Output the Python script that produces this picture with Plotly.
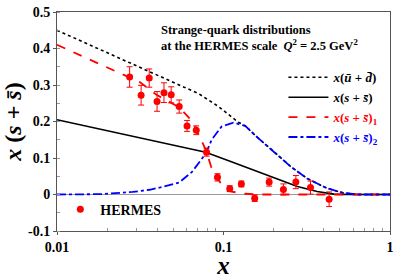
import plotly.graph_objects as go

# HERMES data
herm_x = [0.0273, 0.0320, 0.0358, 0.0399, 0.0439, 0.0485, 0.0542, 0.0604, 0.0686, 0.0791,
          0.092, 0.109, 0.128, 0.154, 0.188, 0.229, 0.272, 0.333, 0.431]
herm_y = [0.322, 0.272, 0.319, 0.255, 0.279, 0.273, 0.241, 0.188, 0.176, 0.116,
          0.047, 0.016, 0.029, -0.010, 0.034, 0.014, 0.034, 0.019, -0.013]
herm_err = [0.028, 0.027, 0.025, 0.027, 0.027, 0.022, 0.018, 0.015, 0.012, 0.011,
            0.010, 0.008, 0.008, 0.009, 0.011, 0.015, 0.018, 0.018, 0.020]

# x(ubar + dbar)
ud_x = [0.01, 0.0182, 0.036, 0.0711, 0.0933, 0.1227, 0.135, 0.161, 0.198, 0.2525, 0.318, 0.418, 0.527, 0.647, 1.0]
ud_y = [0.450, 0.397, 0.337, 0.276, 0.241, 0.198, 0.188, 0.155, 0.120, 0.077, 0.044, 0.017, 0.004, 0.0, 0.0]

# x(s + sbar)
s_x = [0.01, 0.0274, 0.0782, 0.1115, 0.161, 0.2116, 0.278, 0.365, 0.46, 0.55, 1.0]
s_y = [0.205, 0.161, 0.116, 0.090, 0.063, 0.044, 0.022, 0.008, 0.001, 0.0, 0.0]

# x(s + sbar)_1
s1_x = [0.01, 0.0139, 0.0209, 0.0314, 0.0396, 0.0542, 0.0621, 0.0683, 0.0782, 0.0849, 0.0973, 0.1115, 0.135, 0.161, 1.0]
s1_y = [0.410, 0.380, 0.343, 0.308, 0.273, 0.239, 0.210, 0.180, 0.123, 0.072, 0.027, 0.008, 0.002, 0.0, 0.0]

# x(s + sbar)_2
s2_x = [0.01, 0.0182, 0.0285, 0.036, 0.0442, 0.0542, 0.0647, 0.0711, 0.0782, 0.0849, 0.0973,
        0.1146, 0.135, 0.161, 0.198, 0.2525, 0.318, 0.418, 0.527, 0.647, 1.0]
s2_y = [0.0, 0.001, 0.007, 0.013, 0.022, 0.033, 0.062, 0.088, 0.112, 0.150, 0.186,
        0.197, 0.188, 0.155, 0.120, 0.077, 0.044, 0.017, 0.004, 0.0, 0.0]

x_ticks = [0.01, 0.1, 1]
x_ticklabels = ["0.01", "0.1", "1"]
x_minor = [0.02, 0.03, 0.04, 0.05, 0.06, 0.07, 0.08, 0.09, 0.2, 0.3, 0.4, 0.5, 0.6, 0.7, 0.8, 0.9]
y_ticks = [-0.1, 0, 0.1, 0.2, 0.3, 0.4, 0.5]
y_ticklabels = ["-0.1", "0", "0.1", "0.2", "0.3", "0.4", "0.5"]

SB = "s\u0304"
serif = "Liberation Serif"

fig = go.Figure()
fig.add_trace(go.Scatter(x=ud_x, y=ud_y, mode="lines",
                         line=dict(color="black", dash="dot", width=1.6),
                         name="<b><i>x</i>(<i>u\u0304</i> + <i>d\u0304</i>)</b>"))
fig.add_trace(go.Scatter(x=s_x, y=s_y, mode="lines",
                         line=dict(color="black", width=1.6),
                         name=f"<b><i>x</i>(<i>s</i> + <i>{SB}</i>)</b>"))
fig.add_trace(go.Scatter(x=s1_x, y=s1_y, mode="lines",
                         line=dict(color="#ff0000", dash="dash", width=1.8),
                         name=f"<span style='color:#ff0000'><b><i>x</i>(<i>s</i> + <i>{SB}</i>)<sub>1</sub></b></span>"))
fig.add_trace(go.Scatter(x=s2_x, y=s2_y, mode="lines",
                         line=dict(color="#0000ff", dash="dashdot", width=1.8),
                         name=f"<span style='color:#0000ff'><b><i>x</i>(<i>s</i> + <i>{SB}</i>)<sub>2</sub></b></span>"))
fig.add_trace(go.Scatter(x=herm_x, y=herm_y, mode="markers",
                         marker=dict(color="#ff0000", size=7),
                         error_y=dict(type="data", array=herm_err, color="#ff0000", thickness=1, width=3),
                         name="<b>HERMES</b>", legend="legend2"))

fig.update_layout(
    width=399, height=279,
    margin=dict(l=56, r=5, t=8, b=48),
    paper_bgcolor="white", plot_bgcolor="white",
    font=dict(family=serif, color="black", size=13),
    showlegend=True,
    legend=dict(x=0.68, y=0.77, xanchor="left", yanchor="top",
                bgcolor="rgba(0,0,0,0)", font=dict(size=13, family=serif),
                itemwidth=40, tracegroupgap=0),
    legend2=dict(x=0.01, y=0.17, xanchor="left", yanchor="top",
                 bgcolor="rgba(0,0,0,0)", font=dict(size=14, family=serif)),
    xaxis=dict(type="log", range=[-2, 0], showgrid=False, zeroline=False,
               showline=True, linecolor="#555", mirror=True, linewidth=1,
               ticks="outside", ticklen=3, tickcolor="#555",
               tickvals=x_ticks, ticktext=[f"<b>{t}</b>" for t in x_ticklabels],
               tickfont=dict(size=14),
               minor=dict(ticks="inside", ticklen=3, tickcolor="#999", tickvals=x_minor, showgrid=False),
               title=dict(text="<b><i>x</i></b>", font=dict(size=25, family=serif), standoff=0)),
    yaxis=dict(range=[-0.1, 0.5], showgrid=False,
               zeroline=True, zerolinecolor="#999", zerolinewidth=1.2,
               showline=True, linecolor="#555", mirror=True, linewidth=1,
               ticks="outside", ticklen=3, tickcolor="#555",
               tickvals=y_ticks, ticktext=[f"<b>{t}</b>" for t in y_ticklabels],
               tickfont=dict(size=14),
               minor=dict(ticks="inside", ticklen=3, tickcolor="#999", dtick=0.05, showgrid=False),
               title=dict(text=f"<b><i>x</i> (<i>s</i> + <i>{SB}</i>)</b>", font=dict(size=24, family=serif), standoff=6)),
)

fig.add_annotation(
    xref="paper", yref="paper", x=0.305, y=0.96, xanchor="left", yanchor="top",
    align="left", showarrow=False,
    text="<b>Strange-quark distributions</b><br><b>at the HERMES scale  <i>Q</i><sup>2</sup> = 2.5 GeV<sup>2</sup></b>",
    font=dict(size=12.5, family=serif, color="black"),
)

fig.write_html("out.html", config={"displayModeBar": False},
               post_script="document.body.style.margin='0px';")
